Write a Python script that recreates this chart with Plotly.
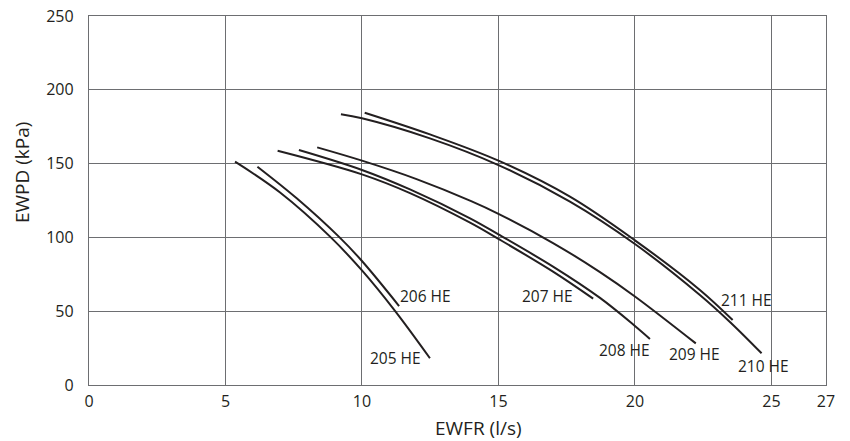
import plotly.graph_objects as go

# Evaporator water pressure drop vs. flow rate, one curve per model
models = ["205 HE", "206 HE", "207 HE", "208 HE", "209 HE", "210 HE", "211 HE"]

flow_205 = [5.35, 7.0, 8.86, 10.0, 11.21, 12.49]
wpd_205 = [151.3, 130.4, 100.0, 77.6, 50.2, 18.1]

flow_206 = [6.17, 7.61, 9.18, 10.0, 11.36]
wpd_206 = [147.9, 126.5, 100.0, 84.0, 53.5]

flow_207 = [6.91, 10.0, 11.76, 13.96, 15.0, 17.0, 18.47]
wpd_207 = [158.7, 142.7, 130.0, 110.0, 99.0, 76.8, 58.5]

flow_208 = [7.69, 10.0, 11.76, 13.96, 15.0, 17.0, 18.72, 20.0, 20.55]
wpd_208 = [159.2, 145.7, 132.5, 112.9, 102.0, 80.2, 59.0, 40.0, 31.2]

flow_209 = [8.36, 10.0, 12.0, 14.0, 15.0, 17.0, 18.72, 20.0, 22.23]
wpd_209 = [161.0, 152.0, 139.5, 124.6, 116.0, 96.2, 76.5, 60.0, 28.2]

flow_210 = [9.23, 10.0, 12.49, 15.0, 17.62, 20.0, 22.38, 23.5, 24.64]
wpd_210 = [183.4, 180.7, 167.1, 149.0, 124.2, 95.5, 61.0, 42.4, 21.5]

flow_211 = [10.1, 12.49, 15.0, 17.62, 20.0, 22.38, 23.58]
wpd_211 = [184.5, 169.8, 152.0, 127.6, 98.0, 64.4, 44.0]

# Curve labels (text position in data units)
label_x = [11.24, 12.31, 16.8, 19.62, 22.19, 24.71, 24.07]
label_y = [18.6, 60.6, 60.4, 23.7, 21.0, 13.1, 57.4]

x_ticks = [0, 5, 10, 15, 20, 25, 27]
y_ticks = [0, 50, 100, 150, 200, 250]

series = [
    (flow_205, wpd_205), (flow_206, wpd_206), (flow_207, wpd_207),
    (flow_208, wpd_208), (flow_209, wpd_209), (flow_210, wpd_210),
    (flow_211, wpd_211),
]

INK = "#231f20"
GRID = "#6d6e71"
FONT = "Open Sans"

fig = go.Figure()
for name, (fx, fy) in zip(models, series):
    fig.add_trace(go.Scatter(
        x=fx, y=fy, name=name, mode="lines",
        line=dict(color=INK, width=2, shape="spline", smoothing=1.0),
        showlegend=False, hoverinfo="x+y+name",
    ))

for name, lx, ly in zip(models, label_x, label_y):
    fig.add_annotation(x=lx, y=ly, text=name, showarrow=False,
                       font=dict(family=FONT, size=15.5, color=INK),
                       xanchor="center", yanchor="middle")

# Axis titles
fig.add_annotation(text="EWPD (kPa)", xref="paper", yref="paper",
                   x=-0.0906, y=0.575, textangle=-90, showarrow=False,
                   font=dict(family=FONT, size=19, color=INK),
                   xanchor="center", yanchor="middle")
fig.add_annotation(text="EWFR (l/s)", xref="paper", yref="paper",
                   x=0.528, y=-0.116, showarrow=False,
                   font=dict(family=FONT, size=19, color=INK),
                   xanchor="center", yanchor="middle")

axis_common = dict(
    showgrid=True, gridcolor=GRID, gridwidth=1.3,
    showline=True, linecolor=GRID, linewidth=1.3, mirror=True,
    zeroline=False, ticks="", automargin=False,
    tickfont=dict(family=FONT, size=16, color=INK),
)

fig.update_xaxes(range=[0, 27], tickvals=x_ticks, ticktext=[str(v) for v in x_ticks],
                 ticklabelstandoff=2, **axis_common)
fig.update_yaxes(range=[0, 250], tickvals=y_ticks, ticklabelstandoff=11, **axis_common)

fig.update_layout(
    width=850, height=441,
    margin=dict(l=89, r=24, t=16, b=56),
    plot_bgcolor="white", paper_bgcolor="white",
    font=dict(family=FONT, color=INK),
)

fig.write_html("out.html")
